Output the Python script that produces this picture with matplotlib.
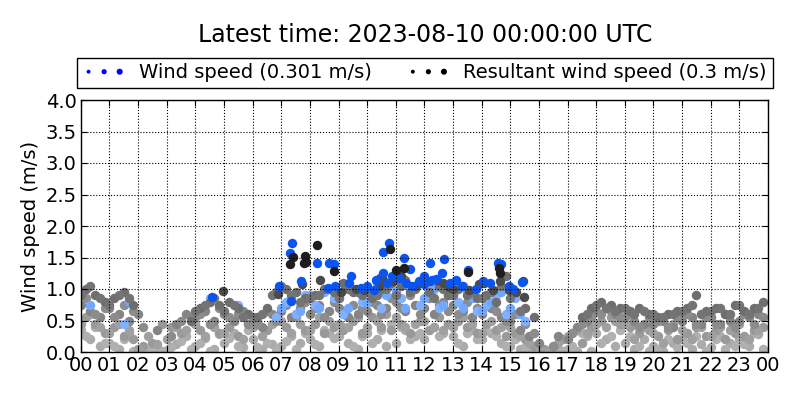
import numpy as np
import matplotlib
matplotlib.use('Agg')
import matplotlib.pyplot as plt
from matplotlib.legend_handler import HandlerPathCollection

nan = np.nan

# sample grids (hours of day), 20 minute steps
t_a = np.arange(72) / 3.0
t_b = t_a + 1 / 6.0

# older days, faded to grey (oldest first)
old_light = [0.35, 0.20, 0.10, 0.15, 0.05, 0.30, 0.05, 0.02, 0.08, 0.03, 0.12, 0.25,
             0.10, 0.22, 0.05, 0.15, 0.30, 0.08, 0.20, 0.05, 0.12, 0.10, 0.25, 0.15,
             0.20, 0.10, 0.30, 0.25, 0.15, 0.05, 0.30, 0.20, 0.10, 0.15, 0.35, 0.25,
             0.20, 0.40, 0.30, 0.25, 0.10, 0.35, 0.20, 0.30, 0.15, 0.10, 0.05, 0.02,
             0.02, 0.01, 0.03, 0.05, 0.02, 0.25, 0.30, 0.20, 0.10, 0.15, 0.05, 0.20,
             0.10, 0.02, 0.15, 0.20, 0.05, 0.12, 0.08, 0.25, 0.15, 0.20, 0.10, 0.28]
old_light2 = [0.25, 0.40, 0.15, 0.10, 0.20, 0.02, 0.01, 0.03, 0.02, 0.08, 0.18, 0.05,
              0.15, 0.02, 0.28, 0.22, 0.10, 0.35, 0.08, 0.15, 0.02, 0.18, 0.05, 0.30,
              0.12, 0.35, 0.22, 0.40, 0.10, 0.25, 0.15, 0.35, 0.45, 0.40, 0.20, 0.30,
              0.35, 0.25, 0.45, 0.15, 0.30, 0.20, 0.35, 0.25, 0.10, 0.20, 0.08, 0.03,
              0.01, 0.02, 0.01, 0.10, 0.30, 0.02, 0.15, 0.25, 0.35, 0.25, 0.10, 0.02,
              0.05, 0.20, 0.08, 0.15, 0.25, 0.02, 0.20, 0.05, 0.10, 0.12, 0.30, 0.05]
old_mid = [0.55, 0.45, 0.30, 0.40, 0.25, 0.20, 0.10, 0.15, 0.45, 0.40, 0.30, 0.55,
           0.35, 0.45, 0.30, 0.40, 0.25, 0.45, 0.50, 0.35, 0.55, 0.40, 0.55, 0.35,
           0.45, 0.30, 0.40, 0.35, 0.50, 0.30, 0.55, 0.40, 0.35, 0.45, 0.30, 0.50,
           0.35, 0.55, 0.45, 0.50, 0.40, 0.30, 0.45, 0.35, 0.25, 0.30, 0.20, 0.10,
           0.05, 0.08, 0.20, 0.30, 0.15, 0.40, 0.50, 0.55, 0.45, 0.40, 0.30, 0.35,
           0.25, 0.35, 0.20, 0.30, 0.40, 0.25, 0.35, 0.20, 0.30, 0.25, 0.35, 0.40]
old_mid2 = [0.45, 0.60, 0.40, 0.30, 0.45, 0.35, 0.05, 0.25, 0.12, 0.20, 0.40, 0.35,
            0.45, 0.25, 0.40, 0.30, 0.50, 0.20, 0.40, 0.25, 0.45, 0.50, 0.30, 0.45,
            0.35, 0.55, 0.50, 0.45, 0.40, 0.55, 0.40, 0.50, 0.60, 0.55, 0.40, 0.45,
            0.50, 0.40, 0.35, 0.40, 0.55, 0.45, 0.30, 0.50, 0.40, 0.40, 0.25, 0.15,
            0.10, 0.02, 0.15, 0.25, 0.35, 0.30, 0.45, 0.40, 0.50, 0.45, 0.20, 0.40,
            0.30, 0.15, 0.45, 0.35, 0.20, 0.40, 0.25, 0.40, 0.35, 0.45, 0.20, 0.35]
mid = [0.75, 0.65, 0.55, 0.70, 0.60, 0.50, 0.60, nan, 0.35, nan, 0.45, 0.60,
       0.55, 0.65, 0.50, 0.60, 0.50, 0.65, 0.55, 0.40, 0.60, 0.65, 0.55, 0.70,
       0.60, 0.75, 0.65, 0.70, 0.55, 0.60, 0.65, 0.75, 0.70, 0.80, 0.65, 0.75,
       0.70, 0.60, 0.80, 0.75, 0.65, 0.55, 0.60, 0.70, 0.55, 0.50, 0.35, 0.25,
       0.15, nan, 0.25, 0.20, 0.40, 0.50, 0.65, 0.70, 0.60, 0.55, 0.50, 0.45,
       0.45, 0.50, 0.40, 0.50, 0.55, 0.45, 0.55, 0.45, 0.50, 0.50, 0.55, 0.60]
mid2 = [0.85, 0.60, 0.70, 0.55, 0.75, 0.65, 0.40, nan, nan, 0.25, 0.50, nan,
        0.60, 0.45, 0.70, 0.55, 0.60, 0.45, 0.45, 0.65, 0.50, 0.75, 0.60, 0.80,
        0.70, 0.55, 0.80, 0.60, 0.75, 0.70, 0.80, 0.60, 0.85, 0.70, 0.90, 0.60,
        0.85, 0.75, 0.65, 0.60, 0.80, 0.70, 0.75, 0.65, 0.50, 0.60, 0.45, 0.30,
        nan, 0.10, nan, 0.30, 0.45, 0.55, 0.60, 0.65, 0.55, 0.60, 0.40, 0.55,
        0.50, 0.40, 0.55, 0.60, 0.45, 0.55, 0.45, 0.60, 0.40, 0.60, 0.45, 0.55]
prev_wind = [nan, nan, 0.80, nan, 0.45, nan, nan, nan, nan, nan, nan, nan,
             nan, 0.85, nan, nan, 0.75, nan, nan, nan, 0.55, 0.80, 0.60, 0.90,
             0.75, 0.95, 0.85, 0.60, 1.00, 0.80, 0.95, 0.70, 1.05, 0.85, 1.00, 0.75,
             1.05, 0.70, 0.90, 0.80, 0.95, 0.65, 0.75, 0.90, 0.60, 0.85, 0.50, nan,
             nan, nan, nan, nan, nan, nan, nan, nan, nan, nan, nan, nan,
             nan, nan, nan, nan, nan, nan, nan, nan, nan, nan, nan, nan]
prev_wind2 = [nan, 0.75, nan, nan, nan, 0.80, nan, nan, nan, nan, nan, nan,
              nan, nan, nan, nan, nan, nan, nan, nan, nan, 0.70, 0.85, 0.65,
              0.90, 0.70, 1.00, 0.85, 0.70, 0.95, 0.80, 1.10, 0.90, 0.95, 0.70, 1.05,
              0.85, 1.00, 0.75, 0.90, 0.70, 0.85, 0.65, 0.80, 0.95, 0.70, 0.60, nan,
              nan, nan, nan, nan, nan, nan, nan, nan, nan, nan, nan, nan,
              nan, nan, nan, nan, nan, nan, nan, nan, nan, nan, nan, nan]
dark = [1.00, 0.90, 0.80, 0.85, 0.95, 0.75, nan, nan, nan, nan, nan, 0.50,
        0.70, 0.80, 0.75, 0.80, 0.70, 0.60, 0.55, 0.70, 0.95, 1.00, 0.95, 0.85,
        0.90, 1.00, 0.95, 1.10, 0.95, 0.90, 0.85, 1.00, 1.10, 1.05, 0.95, 1.10,
        0.95, 1.05, 0.90, 1.00, 0.90, 0.85, 0.90, 0.80, 1.20, 0.95, 0.70, 0.55,
        nan, nan, nan, nan, 0.55, 0.70, 0.80, 0.75, 0.70, 0.65, 0.70, 0.60,
        0.55, 0.60, 0.65, 0.70, 0.90, 0.65, 0.70, 0.60, 0.75, 0.65, 0.70, 0.80]
dark2 = [0.90, 1.05, 0.85, 0.75, 0.90, 0.85, nan, nan, nan, nan, nan, nan,
         0.65, 0.75, 0.85, 0.65, 0.75, 0.55, nan, 0.60, 0.90, 1.05, 0.90, 0.80,
         0.85, 0.90, 1.00, 0.85, 1.00, 0.95, 0.95, 0.90, 1.00, 0.90, 1.15, 1.00,
         1.10, 0.85, 1.00, 0.90, 1.05, 0.95, 0.85, 0.95, 1.05, 0.85, 0.65, nan,
         nan, nan, nan, nan, nan, 0.60, 0.75, 0.70, 0.65, 0.70, 0.60, 0.65,
         0.60, 0.55, 0.60, 0.65, 0.75, 0.60, 0.65, 0.70, 0.60, 0.75, 0.60, 0.70]

# latest day: wind speed
wind_t = [7.37, 7.31, 7.68, 6.93, 7.34, 4.58, 8.24, 8.67, 8.85, 9.43, 9.37, 8.87, 8.64,
          10.56, 10.78, 11.30, 11.50, 10.56, 10.86, 11.35, 10.25, 11.58, 12.19, 12.69,
          12.63, 12.40, 13.12, 13.53, 14.05, 14.58, 14.69, 14.95, 11.98, 15.40, 12.26,
          10.30, 10.70, 11.10, 11.80, 12.00, 12.90, 13.30, 13.80, 14.30, 15.10, 9.80, 10.00]
wind_v = [1.73, 1.57, 1.12, 1.05, 0.81, 0.88, 1.41, 1.41, 1.40, 1.21, 1.10, 1.05, 1.01,
          1.58, 1.73, 1.50, 1.32, 1.25, 1.21, 1.09, 0.99, 1.04, 1.41, 1.48,
          1.26, 1.16, 1.14, 1.30, 1.12, 1.42, 1.39, 1.05, 1.08, 1.11, 1.14,
          1.15, 1.10, 1.18, 1.12, 1.20, 1.10, 1.05, 1.00, 1.10, 1.00, 1.02, 1.05]
# latest day: resultant, most recent hours (black)
res_t = [7.40, 7.31, 7.84, 7.81, 8.24, 10.80, 8.86, 11.30, 7.86, 13.52, 14.61, 14.63, 11.00]
res_v = [1.51, 1.39, 1.52, 1.42, 1.70, 1.63, 1.29, 1.33, 1.43, 1.27, 1.33, 1.25, 1.30]
# latest day: resultant, a little older (dark grey)
res2_t = [7.72, 6.88, 4.98, 8.35, 10.57, 14.08, 14.63, 15.45, 12.19, 12.66, 12.86, 13.56,
          14.97, 15.47, 10.40, 9.10, 10.45, 10.90, 11.20, 11.70, 12.45, 13.00, 13.90,
          14.40, 15.20, 9.90, 9.60]
res2_v = [1.08, 0.92, 0.97, 1.14, 1.14, 1.09, 1.13, 1.12, 1.12, 1.09, 1.03, 0.99,
          0.98, 0.88, 1.05, 0.95, 1.18, 1.12, 1.20, 1.05, 1.15, 1.00, 1.08,
          0.98, 0.95, 0.98, 1.00]

latest = '2023-08-10 00:00:00'
wind_mean = 0.301
res_mean = 0.3

fig = plt.figure(figsize=(8, 4), dpi=100)
ax = fig.add_axes([0.101, 0.12, 0.859, 0.63])

ms = 46
layers = [(t_a, old_light, '#ababab'), (t_b, old_light2, '#b0b0b0'),
          (t_b, old_mid, '#999999'), (t_a, old_mid2, '#a0a0a0'),
          (t_a, mid, '#858585'), (t_b, mid2, '#8c8c8c'),
          (t_b, prev_wind, '#80b0ff'), (t_a, prev_wind2, '#70a8ff'),
          (t_b, dark, '#6e6e6e'), (t_a, dark2, '#747474'),
          (res2_t, res2_v, '#4a4a4a'),
          (wind_t, wind_v, '#0a55f0'), (res_t, res_v, '#1e1e1e')]
for t, v, col in layers:
    ax.scatter(t, v, s=ms, c=col, linewidths=0)

ax.set_xlim(0, 24)
ax.set_ylim(0, 4)
ax.set_xticks(range(25))
ax.set_xticklabels(['%02d' % (h % 24) for h in range(25)])
ax.set_yticks(np.arange(0, 4.01, 0.5))
ax.tick_params(direction='in', top=True, right=True, labelsize=14, length=4, pad=3)
ax.set_ylabel('Wind speed (m/s)', fontsize=14)
ax.grid(True, linestyle=':', color='k', linewidth=0.8)
ax.set_axisbelow(False)
for sp in ax.spines.values():
    sp.set_linewidth(1)

# legend proxies (nan points, only there for the legend)
h1 = ax.scatter([nan], [nan], s=20, c='b', linewidths=0)
h2 = ax.scatter([nan], [nan], s=20, c='k', linewidths=0)
hmap = {h1: HandlerPathCollection(sizes=[8, 14, 19]),
        h2: HandlerPathCollection(sizes=[8, 14, 19])}
leg = fig.legend([h1, h2],
                 ['Wind speed (%.3g m/s)' % wind_mean, 'Resultant wind speed (%.3g m/s)' % res_mean],
                 loc='center', bbox_to_anchor=(0.531, 0.8175), ncol=2, fontsize=14,
                 scatterpoints=3, scatteryoffsets=[0.5, 0.5, 0.5], handler_map=hmap,
                 fancybox=False, edgecolor='k', framealpha=1,
                 borderpad=0.3, columnspacing=1.8, handletextpad=0.7, handlelength=2.2)
leg.get_frame().set_linewidth(1)

fig.text(0.531, 0.9125, 'Latest time: %s UTC' % latest, ha='center', va='center', fontsize=17)

fig.savefig('out.png', dpi=100)
